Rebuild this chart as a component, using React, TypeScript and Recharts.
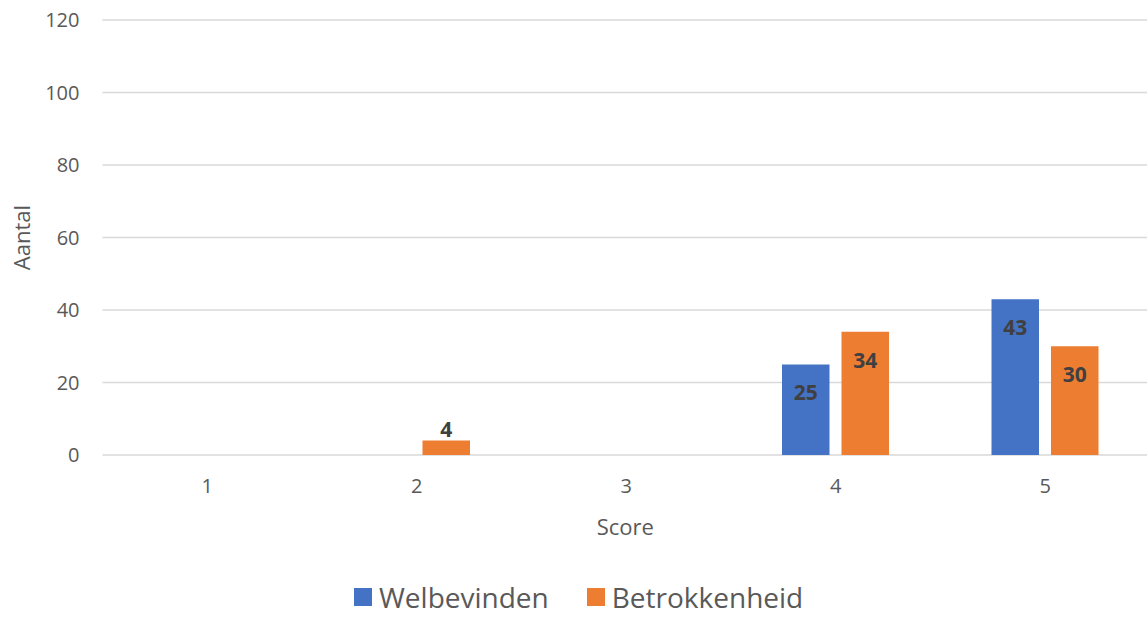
import React from 'react';
import { BarChart, Bar, XAxis, YAxis, CartesianGrid, Legend, LabelList } from 'recharts';

// Score distribution for two scales
const categories = ['1', '2', '3', '4', '5'];
const welbevinden = [0, 0, 0, 25, 43];
const betrokkenheid = [0, 4, 0, 34, 30];
const yTicks = [0, 20, 40, 60, 80, 100, 120];

const seriesKeys = ['welbevinden', 'betrokkenheid'];
const seriesNames: Record<string, string> = { welbevinden: 'Welbevinden', betrokkenheid: 'Betrokkenheid' };
const colors: Record<string, string> = { welbevinden: '#4472C4', betrokkenheid: '#ED7D31' };

const data = categories.map((score, i) => ({
  score,
  welbevinden: welbevinden[i],
  betrokkenheid: betrokkenheid[i],
}));

const FONT = '"Open Sans", "Noto Sans", sans-serif';

// Value label: inside the top of the bar, or just above it when the bar is too short
const renderValue = (props: any) => {
  const { x, y, width, height, value } = props;
  if (!value) return null;
  const inside = Number(height) > 40;
  const ty = inside ? Number(y) + 36 : Number(y) - 4;
  return (
    <text
      x={Number(x) + Number(width) / 2}
      y={ty}
      textAnchor="middle"
      fill="#404040"
      fontSize={21}
      fontWeight={700}
      fontFamily={FONT}
    >
      {value}
    </text>
  );
};

// Legend in series order
const renderLegend = () => (
  <div
    style={{
      display: 'flex',
      alignItems: 'center',
      paddingLeft: 354,
      paddingTop: 29,
      fontFamily: FONT,
    }}
  >
    {seriesKeys.map((key) => (
      <div key={key} style={{ display: 'flex', alignItems: 'center', marginRight: 38 }}>
        <div style={{ width: 18, height: 18, background: colors[key], marginRight: 7 }} />
        <span style={{ fontSize: 28, color: '#595959', lineHeight: 'normal' }}>{seriesNames[key]}</span>
      </div>
    ))}
  </div>
);

const XTitle = (props: any) => {
  const { viewBox } = props;
  const { x, y, width } = viewBox;
  return (
    <text x={x + width / 2 - 1} y={y + 80} textAnchor="middle" fill="#595959" fontSize={22} fontFamily={FONT}>
      Score
    </text>
  );
};

const YTitle = (props: any) => {
  const { viewBox } = props;
  const cy = viewBox.y + viewBox.height / 2;
  const cx = 30;
  return (
    <text
      x={cx}
      y={cy}
      transform={`rotate(-90, ${cx}, ${cy})`}
      textAnchor="middle"
      fill="#595959"
      fontSize={22}
      fontFamily={FONT}
    >
      Aantal
    </text>
  );
};

export default function App() {
  return (
    <div
      style={{
        position: 'absolute',
        left: 0,
        top: 0,
        width: 1147,
        height: 617,
        overflow: 'hidden',
        background: '#ffffff',
      }}
    >
      <BarChart
        width={1150}
        height={617}
        data={data}
        margin={{ top: 20, right: 0, left: 0, bottom: 0 }}
        barSize={47.5}
        barGap={12}
      >
        <CartesianGrid vertical={false} stroke="#d9d9d9" strokeWidth={1.5} />
        <XAxis
          dataKey="score"
          axisLine={false}
          tickLine={false}
          tickSize={0}
          tickMargin={24}
          height={94}
          tick={{ fill: '#595959', fontSize: 20, fontFamily: FONT }}
          label={<XTitle />}
        />
        <YAxis
          domain={[0, 120]}
          ticks={yTicks}
          width={102.5}
          axisLine={false}
          tickLine={false}
          tickSize={0}
          tickMargin={23}
          tick={{ fill: '#595959', fontSize: 20, fontFamily: FONT }}
          label={<YTitle />}
        />
        <Legend verticalAlign="bottom" height={68} content={renderLegend} wrapperStyle={{ left: 0, width: 1147 }} />
        <Bar dataKey="welbevinden" name={seriesNames.welbevinden} fill={colors.welbevinden} isAnimationActive={false}>
          <LabelList dataKey="welbevinden" content={renderValue} />
        </Bar>
        <Bar dataKey="betrokkenheid" name={seriesNames.betrokkenheid} fill={colors.betrokkenheid} isAnimationActive={false}>
          <LabelList dataKey="betrokkenheid" content={renderValue} />
        </Bar>
      </BarChart>
    </div>
  );
}
